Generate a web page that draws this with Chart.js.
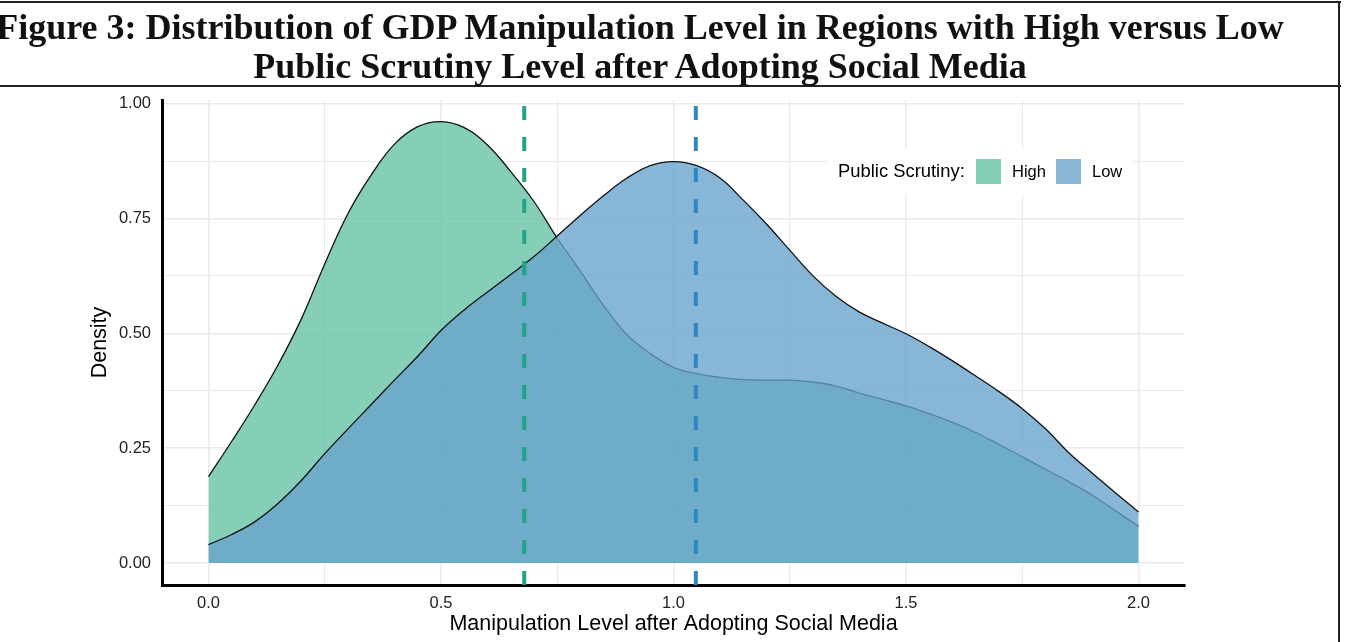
<!DOCTYPE html>
<html><head><meta charset="utf-8">
<script src="https://cdn.jsdelivr.net/npm/chart.js@4.4.1/dist/chart.umd.min.js"></script>
<style>
html,body{margin:0;padding:0;background:#fff;width:1347px;height:642px;overflow:hidden;}
#wrap{position:relative;width:1347px;height:642px;}
canvas{position:absolute;left:0;top:0;}
.tl{position:absolute;left:640px;transform:translateX(-50%);white-space:nowrap;font-family:"Liberation Serif","Times New Roman",serif;font-weight:bold;font-size:36px;color:#111;line-height:40px;}
.hl{position:absolute;background:#222;}
</style></head><body>
<div id="wrap">
<canvas id="c" width="1347" height="642"></canvas>
<div class="hl" style="left:0;top:1px;width:1341px;height:2px"></div>
<div class="hl" style="left:0;top:85px;width:1341px;height:2px"></div>
<div class="hl" style="left:1338px;top:1px;width:2px;height:641px"></div>
<div class="tl" style="top:7px">Figure 3: Distribution of GDP Manipulation Level in Regions with High versus Low</div>
<div class="tl" style="top:46px">Public Scrutiny Level after Adopting Social Media</div>
</div>
<script>
// ---- data ----
const xValues = [0.00,0.05,0.10,0.15,0.20,0.25,0.30,0.35,0.40,0.45,0.50,0.55,0.60,0.65,0.70,0.75,0.80,0.85,0.90,0.95,1.00,
                 1.05,1.10,1.15,1.20,1.25,1.30,1.35,1.40,1.45,1.50,1.55,1.60,1.65,1.70,1.75,1.80,1.85,1.90,1.95,2.00];
const highDensity = [0.188,0.265,0.345,0.432,0.532,0.651,0.761,0.845,0.912,0.950,0.961,0.948,0.910,0.852,0.787,0.707,0.635,0.560,0.497,0.456,0.426,
                     0.412,0.404,0.399,0.398,0.398,0.394,0.385,0.370,0.356,0.342,0.325,0.306,0.284,0.258,0.231,0.204,0.177,0.148,0.114,0.080];
const lowDensity  = [0.040,0.062,0.090,0.130,0.180,0.238,0.292,0.345,0.398,0.450,0.506,0.551,0.590,0.628,0.667,0.712,0.757,0.800,0.838,0.865,0.874,
                     0.865,0.838,0.790,0.738,0.681,0.625,0.580,0.546,0.522,0.499,0.471,0.440,0.407,0.373,0.336,0.292,0.240,0.196,0.153,0.111];
const groupNames = ['High','Low'];
const groupMeans = [0.679, 1.048];
const xMajorTicks = [0, 0.5, 1.0, 1.5, 2.0];
const xMinorTicks = [0.25, 0.75, 1.25, 1.75];
const yMajorTicks = [0, 0.25, 0.5, 0.75, 1.0];
const yMinorTicks = [0.125, 0.375, 0.625, 0.875];
const xTitle = 'Manipulation Level after Adopting Social Media';
const yTitle = 'Density';
const legendTitle = 'Public Scrutiny:';

// ---- styles ----
const FONT = '"Liberation Sans", Arial, sans-serif';
const fillColors = ['rgba(102,194,165,0.80)', 'rgba(104,162,204,0.79)'];
const legendSwatch = ['#85CFB6', '#8AB6D6'];
const meanColors = ['#23A486', '#2F86C4'];
const Y_MIN = -0.048, Y_MAX = 1.008;

const toPts = arr => xValues.map((x, i) => ({x: x, y: arr[i]}));
const curveStyle = {fill: 'origin', borderColor: '#111', borderWidth: 1.3, pointRadius: 0, tension: 0.4};

const datasets = [
  Object.assign({label: groupNames[0], data: toPts(highDensity), backgroundColor: fillColors[0], order: 5}, curveStyle),
  Object.assign({label: groupNames[1], data: toPts(lowDensity), backgroundColor: fillColors[1], order: 4}, curveStyle),
];
groupMeans.forEach((m, i) => datasets.push({
  label: 'mean ' + groupNames[i], data: [{x: m, y: Y_MIN}, {x: m, y: Y_MAX}],
  borderColor: meanColors[i], borderWidth: 4, borderDash: [14, 17], pointRadius: 0, fill: false, order: 1 - i
}));

const isIn = (arr, v) => arr.some(a => Math.abs(a - v) < 1e-9);
const gridW = (majors) => (ctx) => (ctx.tick && isIn(majors, ctx.tick.value)) ? 1.6 : 1.1;

const decor = {
  id: 'decor',
  afterDraw(chart) {
    const ctx = chart.ctx, ca = chart.chartArea;
    ctx.save();
    // axis titles
    ctx.fillStyle = '#000';
    ctx.font = '21.5px ' + FONT;
    ctx.textAlign = 'center'; ctx.textBaseline = 'middle';
    ctx.fillText(xTitle, (ca.left + ca.right) / 2, 624);
    ctx.save();
    ctx.translate(100, (ca.top + ca.bottom) / 2);
    ctx.rotate(-Math.PI / 2);
    ctx.fillText(yTitle, 0, 0);
    ctx.restore();
    // legend
    ctx.fillStyle = '#fff';
    ctx.fillRect(827, 148, 306, 47);
    ctx.textAlign = 'left';
    ctx.fillStyle = '#000';
    ctx.font = '18.4px ' + FONT;
    ctx.fillText(legendTitle, 838, 172);
    ctx.font = '16.5px ' + FONT;
    const boxX = [976, 1056], txtX = [1012, 1092];
    groupNames.forEach((n, i) => {
      ctx.fillStyle = legendSwatch[i];
      ctx.fillRect(boxX[i], 159, 25, 25);
      ctx.fillStyle = '#000';
      ctx.fillText(n, txtX[i], 172);
    });
    ctx.restore();
  }
};

new Chart(document.getElementById('c'), {
  type: 'line',
  data: {datasets: datasets},
  options: {
    responsive: false, animation: false, devicePixelRatio: 1,
    layout: {padding: {top: 100, right: 162, bottom: 0, left: 0}},
    plugins: {legend: {display: false}, tooltip: {enabled: false}},
    scales: {
      x: {
        type: 'linear', min: -0.1, max: 2.1,
        afterBuildTicks: s => { s.ticks = xMajorTicks.concat(xMinorTicks).sort((a, b) => a - b).map(v => ({value: v})); },
        afterFit: s => { s.height = 57; },
        ticks: {autoSkip: false, maxRotation: 0, padding: 9, color: '#222', font: {family: FONT, size: 16.5},
                callback: v => isIn(xMajorTicks, v) ? Number(v).toFixed(1) : ''},
        grid: {color: '#EBEBEB', lineWidth: gridW(xMajorTicks), drawTicks: false},
        border: {display: true, color: '#000', width: 3}
      },
      y: {
        type: 'linear', min: Y_MIN, max: Y_MAX,
        afterBuildTicks: s => { s.ticks = yMajorTicks.concat(yMinorTicks).sort((a, b) => a - b).map(v => ({value: v})); },
        afterFit: s => { s.width = 162; },
        ticks: {autoSkip: false, padding: 11, color: '#222', font: {family: FONT, size: 16.5},
                callback: v => isIn(yMajorTicks, v) ? Number(v).toFixed(2) : ''},
        grid: {color: '#EBEBEB', lineWidth: gridW(yMajorTicks), drawTicks: false},
        border: {display: true, color: '#000', width: 3}
      }
    }
  },
  plugins: [decor]
});
</script>
</body></html>
